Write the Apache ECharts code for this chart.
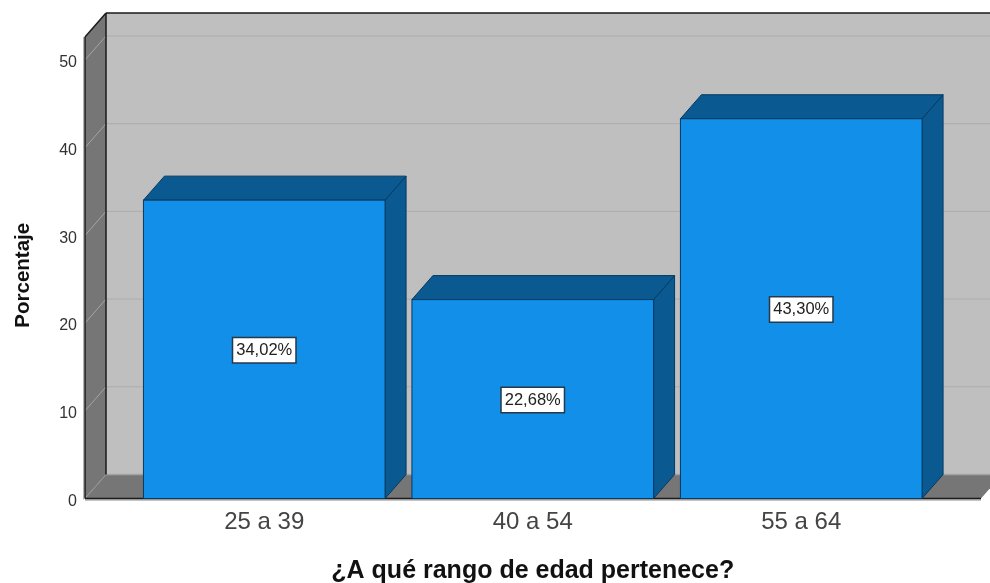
<!DOCTYPE html>
<html>
<head>
<meta charset="utf-8">
<style>html,body{margin:0;padding:0;background:#fff}#c{width:990px;height:583px}</style>
<script src="https://cdn.jsdelivr.net/npm/echarts@6/dist/echarts.min.js"></script>
</head>
<body>
<div id="c"></div>
<script>
// Age-range survey results, drawn as extruded bars in a box-shaped plot area
const categories = ['25 a 39', '40 a 54', '55 a 64'];
const percentages = [34.02, 22.68, 43.30];
const valueLabels = ['34,02%', '22,68%', '43,30%'];
const yTicks = [0, 10, 20, 30, 40, 50];
const yTop = 52.62;
const xTitle = '¿A qué rango de edad pertenece?';
const yTitle = 'Porcentaje';

// Extrusion offset of the box and the bars, in pixels
const DX = 21, DY = 24;
// Horizontal reach of the box beyond the category band
const BOX_LEFT = 45, BOX_RIGHT = 45.5;

const WALL = '#bfbfbf', SIDE = '#767676', EDGE = '#1a1a1a';
const FACE = '#118fe9', DARK = '#0a5a91', BAR_EDGE = '#063a60';

function poly(points, fill, stroke, lineWidth) {
  return {
    type: 'polygon',
    shape: { points },
    style: { fill, stroke: stroke || null, lineWidth: lineWidth || 0 }
  };
}
function seg(x1, y1, x2, y2, stroke, lineWidth) {
  return {
    type: 'line',
    shape: { x1, y1, x2, y2 },
    style: { stroke, lineWidth: lineWidth || 1 }
  };
}

// Back wall, left wall, floor and their grid lines
function renderBox(params, api) {
  const cs = params.coordSys;
  const xl = cs.x - BOX_LEFT, xr = cs.x + cs.width + BOX_RIGHT;
  const yb = cs.y + cs.height, yt = cs.y;
  const kids = [
    poly([[xl + DX, yt - DY], [xr + DX, yt - DY], [xr + DX, yb - DY], [xl + DX, yb - DY]], WALL),
    poly([[xl, yt], [xl + DX, yt - DY], [xl + DX, yb - DY], [xl, yb]], SIDE),
    poly([[xl, yb], [xl + DX, yb - DY], [xr + DX, yb - DY], [xr, yb]], SIDE)
  ];
  yTicks.forEach(function (t) {
    const y = api.coord([0, t])[1];
    kids.push(seg(xl, y, xl + DX, y - DY, t === 0 ? '#9a9a9a' : '#a5a5a5', 1));
    if (t > 0) kids.push(seg(xl + DX, y - DY, xr + DX, y - DY, '#adadad', 1));
  });
  kids.push(seg(xl + DX, yb - DY, xr + DX, yb - DY, '#a4a4a4', 1.5));
  kids.push(seg(xl - 1.5, yt, xl - 1.5, yb + 1, '#b4b4b4', 1));
  kids.push(seg(xl, yb + 1.5, xr, yb + 1.5, '#8a8a8a', 1));
  kids.push(seg(xl, yt, xl, yb, EDGE, 1.5));
  kids.push(seg(xl + DX, yt - DY, xl + DX, yb - DY, EDGE, 1.5));
  kids.push(seg(xl, yt, xl + DX, yt - DY, EDGE, 1.5));
  kids.push(seg(xl + DX, yt - DY, xr + DX, yt - DY, EDGE, 1.5));
  kids.push(seg(xl, yb, xr, yb, EDGE, 1.5));
  return { type: 'group', children: kids };
}

// One extruded bar with its boxed value label
function renderBar(params, api) {
  const idx = api.value(0);
  const top = api.coord([idx, api.value(1)]);
  const base = api.coord([idx, 0]);
  const w = api.size([1, 0])[0] * 0.9;
  const l = top[0] - w / 2, r = top[0] + w / 2;
  const t = top[1], b = base[1];
  return {
    type: 'group',
    children: [
      poly([[r, t], [r + DX, t - DY], [r + DX, b - DY], [r, b]], DARK, BAR_EDGE, 1),
      poly([[l, t], [l + DX, t - DY], [r + DX, t - DY], [r, t]], DARK, BAR_EDGE, 1),
      poly([[l, t], [r, t], [r, b], [l, b]], FACE, BAR_EDGE, 1),
      {
        type: 'text',
        x: top[0],
        y: (t + b) / 2 + 1,
        style: {
          text: valueLabels[idx],
          fill: '#222',
          font: '16.5px "Liberation Sans", Arial, sans-serif',
          align: 'center',
          verticalAlign: 'middle',
          backgroundColor: '#fff',
          borderColor: '#26384a',
          borderWidth: 1.5,
          padding: [4, 3, 3, 3]
        }
      }
    ]
  };
}

const chart = echarts.init(document.getElementById('c'), null, { renderer: 'canvas' });
chart.setOption({
  animation: false,
  backgroundColor: '#fff',
  grid: { left: 130, top: 37, width: 805.5, height: 461.5, outerBoundsMode: 'none' },
  xAxis: {
    type: 'category',
    data: categories,
    axisLine: { show: false },
    axisTick: { show: false },
    axisLabel: { color: '#444', fontFamily: 'Liberation Sans', fontSize: 24, margin: 12 },
    name: xTitle,
    nameLocation: 'middle',
    nameGap: 60,
    nameTextStyle: { color: '#111', fontFamily: 'Liberation Sans', fontWeight: 'bold', fontSize: 25 }
  },
  yAxis: {
    type: 'value',
    min: 0,
    max: yTop,
    interval: 10,
    splitLine: { show: false },
    axisLine: { show: false },
    axisTick: { show: false },
    axisLabel: {
      color: '#333', fontFamily: 'Liberation Sans', fontSize: 16, margin: 53, showMaxLabel: false,
      verticalAlign: 'top',
      lineHeight: 6,
      formatter: function (v) { return yTicks.indexOf(v) >= 0 ? String(v) : ''; }
    },
    name: yTitle,
    nameLocation: 'middle',
    nameGap: 96,
    nameTextStyle: {
      color: '#111', fontFamily: 'Liberation Sans', fontWeight: 'bold', fontSize: 20.5,
      padding: [0, 15, 0, 0]
    }
  },
  series: [
    { type: 'custom', silent: true, clip: false, z: 1, renderItem: renderBox, data: [[0, 0]] },
    {
      type: 'custom', clip: false, z: 2, renderItem: renderBar,
      encode: { x: 0, y: 1 },
      data: percentages.map(function (v, i) { return [i, v]; })
    }
  ]
});
</script>
</body>
</html>
